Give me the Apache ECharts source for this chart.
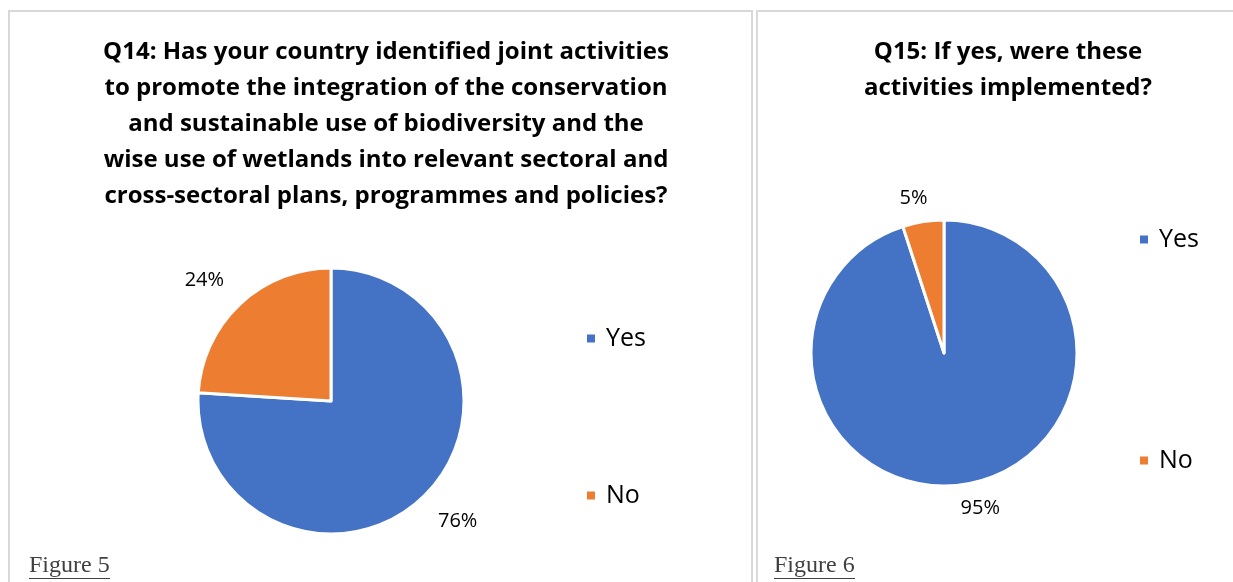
<!DOCTYPE html>
<html>
<head>
<meta charset="utf-8">
<script src="https://cdn.jsdelivr.net/npm/echarts@6/dist/echarts.min.js"></script>
<style>
  html, body { margin: 0; padding: 0; background: #ffffff; }
  #chart { width: 1233px; height: 582px; }
</style>
</head>
<body>
<div id="chart"></div>
<script>
// Survey answers, shares in percent
const categories = ['Yes', 'No'];
const q14Values = [76, 24];
const q15Values = [95, 5];

const q14Title = 'Q14: Has your country identified joint activities\nto promote the integration of the conservation\nand sustainable use of biodiversity and the\nwise use of wetlands into relevant sectoral and\ncross-sectoral plans, programmes and policies?';
const q15Title = 'Q15: If yes, were these\nactivities implemented?';
const captions = ['Figure 5', 'Figure 6'];

const colors = ['#4472C4', '#ED7D31'];
const textFont = '"Open Sans", "Noto Sans", sans-serif';

function pieSeries(name, values, center, lineLength, labelShift) {
  return {
    name: name,
    type: 'pie',
    center: center,
    radius: 133,
    startAngle: 90,
    clockwise: true,
    avoidLabelOverlap: false,
    itemStyle: { borderColor: '#ffffff', borderWidth: 3 },
    label: {
      show: true,
      position: 'outside',
      formatter: '{c}%',
      color: '#000000',
      fontFamily: textFont,
      fontSize: 20,
      distanceToLabelLine: labelShift
    },
    labelLine: { show: false, length: lineLength, length2: 0 },
    emphasis: { disabled: true },
    data: categories.map((c, i) => ({ name: c, value: values[i] }))
  };
}

const titleStyle = { fontFamily: textFont, fontWeight: 'bold', fontSize: 24, lineHeight: 36, color: '#000000' };
const legendText = { fontFamily: textFont, fontSize: 25, color: '#000000', lineHeight: 24, padding: [0, 0, 0, 5] };

const chart = echarts.init(document.getElementById('chart'), null, { renderer: 'canvas' });

chart.setOption({
  animation: false,
  color: colors,
  title: [
    { text: q14Title, left: 381, top: 29, textAlign: 'center', textStyle: titleStyle },
    { text: q15Title, left: 1003, top: 29, textAlign: 'center', textStyle: titleStyle }
  ],
  legend: [
    {
      data: categories,
      orient: 'vertical',
      left: 585, top: 326, padding: 0,
      itemWidth: 10, itemHeight: 10, itemGap: 132,
      icon: 'rect',
      textStyle: legendText
    },
    {
      data: categories,
      orient: 'vertical',
      left: 1138, top: 227, padding: 0,
      itemWidth: 10, itemHeight: 10, itemGap: 196,
      icon: 'rect',
      textStyle: legendText
    }
  ],
  series: [
    pieSeries('Q14', q14Values, [331, 401], 32, -6),
    pieSeries('Q15', q15Values, [944, 353], 24, -8)
  ],
  graphic: [
    { type: 'rect', shape: { x: 9, y: 11, width: 743, height: 600 }, style: { fill: 'none', stroke: '#d9d9d9', lineWidth: 2 }, z: -1 },
    { type: 'rect', shape: { x: 757, y: 11, width: 600, height: 600 }, style: { fill: 'none', stroke: '#d9d9d9', lineWidth: 2 }, z: -1 },
    { type: 'text', left: 29, top: 554, style: { text: captions[0], font: '24px "Liberation Serif", serif', fill: '#404040' } },
    { type: 'line', shape: { x1: 29, y1: 578.5, x2: 110, y2: 578.5 }, style: { stroke: '#404040', lineWidth: 1 } },
    { type: 'text', left: 774, top: 554, style: { text: captions[1], font: '24px "Liberation Serif", serif', fill: '#404040' } },
    { type: 'line', shape: { x1: 774, y1: 578.5, x2: 855, y2: 578.5 }, style: { stroke: '#404040', lineWidth: 1 } }
  ]
});
</script>
</body>
</html>
